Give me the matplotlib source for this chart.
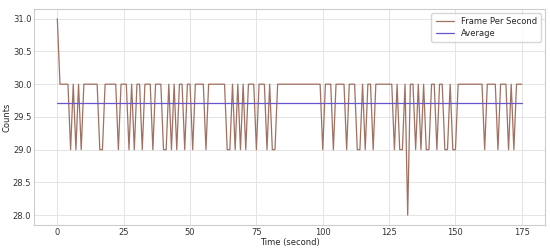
import numpy as np
import matplotlib
matplotlib.use('Agg')
import matplotlib.pyplot as plt

# frame rate per second (t = 0..175)
seconds = list(range(176))
dips_29 = [5, 7, 9, 16, 17, 23, 27, 29, 32, 36, 40, 41, 43, 45, 48, 51, 56,
           64, 65, 67, 69, 71, 75, 79, 81, 82,
           100, 104, 109, 113, 114, 116, 119, 127, 129, 130,
           135, 137, 139, 140, 143, 146, 147, 149, 150, 161, 166, 170, 172]
special = {0: 31, 132: 28}

fps = []
for t in seconds:
    if t in special:
        fps.append(special[t])
    elif t in dips_29:
        fps.append(29)
    else:
        fps.append(30)

avg_fps = np.mean(fps)

plt.style.use('seaborn-v0_8-whitegrid')
plt.rcParams['font.family'] = ['DejaVu Sans']
fig = plt.figure(figsize=(5.5, 2.48), dpi=100)
ax = fig.add_axes([0.062, 0.093, 0.929, 0.871])

ax.plot(seconds, fps, color='#a07060', linewidth=0.9, label='Frame Per Second')
ax.plot([seconds[0], seconds[-1]], [avg_fps, avg_fps], color='#6655cc',
        linewidth=0.9, label='Average')

ax.set_xticks([0, 25, 50, 75, 100, 125, 150, 175])
ax.set_yticks([28.0, 28.5, 29.0, 29.5, 30.0, 30.5, 31.0])
ax.tick_params(labelsize=6, colors='#333333', pad=2)
ax.set_xlabel('Time (second)', fontsize=6, labelpad=1)
ax.set_ylabel('Counts', fontsize=6, labelpad=1)

for s in ax.spines.values():
    s.set_visible(True)
    s.set_color('#cccccc')
    s.set_linewidth(0.8)
ax.grid(color='#e4e4e4', linewidth=0.7)

leg = ax.legend(loc='upper right', fontsize=6, frameon=True, handlelength=2.2,
                borderpad=0.5, labelspacing=0.3)
leg.get_frame().set_edgecolor('#cccccc')

fig.savefig('out.png', dpi=100)
